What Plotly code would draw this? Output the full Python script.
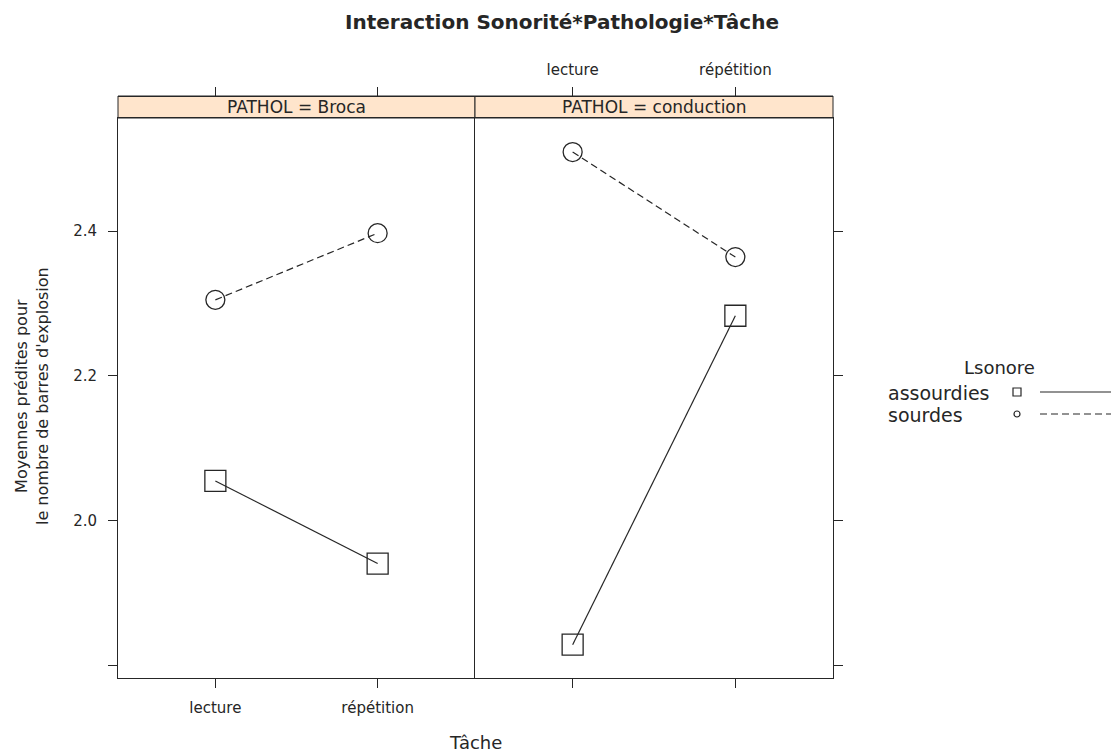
import plotly.graph_objects as go

# data
tache = ["lecture", "répétition"]
panels = ["Broca", "conduction"]
series = ["assourdies", "sourdes"]
broca_assourdies = [2.055, 1.941]
broca_sourdes = [2.305, 2.397]
conduction_assourdies = [1.829, 2.283]
conduction_sourdes = [2.509, 2.364]
y_ticks = [1.8, 2.0, 2.2, 2.4]
y_ticktext = ["", "2.0", "2.2", "2.4"]

# %%
# screen coordinates of the panel block (page body has an 8px margin)
OFF = 8
W, H = 1119 - OFF, 755 - OFF
L, T, B = 118 - OFF, 96 - OFF, 77
pw, ph = W - L, H - T - B


def px(x):
    return (x - 118) / pw


def py(y):
    return (678 - y) / ph


ink = "#262626"
font = "DejaVu Sans, sans-serif"
strip_bg = "#FFE5CC"
xr = [-0.6, 1.6]
yr = [1.783, 2.556]
ytop = py(118)

styles = {
    "assourdies": dict(symbol="square-open", size=21, dash="solid"),
    "sourdes": dict(symbol="circle-open", size=19, dash="7px,4px"),
}
data = {
    ("Broca", "assourdies"): broca_assourdies,
    ("Broca", "sourdes"): broca_sourdes,
    ("conduction", "assourdies"): conduction_assourdies,
    ("conduction", "sourdes"): conduction_sourdes,
}

fig = go.Figure()
for i, p in enumerate(panels):
    xa = "x" if i == 0 else "x2"
    ya = "y" if i == 0 else "y2"
    for s in series:
        st = styles[s]
        fig.add_trace(go.Scatter(
            x=tache, y=data[(p, s)], xaxis=xa, yaxis=ya,
            mode="lines+markers", name=s, showlegend=False,
            line=dict(color=ink, width=1.2, dash=st["dash"]),
            marker=dict(symbol=st["symbol"], size=st["size"],
                        color=ink, line=dict(color=ink, width=1.3)),
        ))

# dummy traces so the top axes are drawn
for xa, ya in [("x3", "y"), ("x4", "y2")]:
    fig.add_trace(go.Scatter(x=tache, y=[None, None], xaxis=xa, yaxis=ya,
                             mode="markers", showlegend=False, hoverinfo="skip"))

# legend key (drawn in its own hidden axes, screen pixel units)
key_y = {"assourdies": 392, "sourdes": 414}
key_size = {"assourdies": 8, "sourdes": 6}
for s in series:
    st = styles[s]
    fig.add_trace(go.Scatter(
        x=[1017], y=[key_y[s]], xaxis="x5", yaxis="y5", mode="markers",
        showlegend=False, hoverinfo="skip",
        marker=dict(symbol=st["symbol"], size=key_size[s], color=ink,
                    line=dict(color=ink, width=1.2))))
    fig.add_trace(go.Scatter(
        x=[1040, 1116], y=[key_y[s]] * 2, xaxis="x5", yaxis="y5", mode="lines",
        showlegend=False, hoverinfo="skip",
        line=dict(color=ink, width=1.2, dash=st["dash"])))

ax_common = dict(showgrid=False, zeroline=False, showline=True, linecolor=ink,
                 linewidth=1, ticks="outside", ticklen=9, tickcolor=ink,
                 tickfont=dict(family=font, size=15, color=ink))

split = px(475)
right = px(833)
fig.update_layout(
    width=W, height=H,
    margin=dict(l=L, r=0, t=T, b=B),
    paper_bgcolor="white", plot_bgcolor="white",
    font=dict(family=font, color=ink),
    xaxis=dict(domain=[0, split], anchor="y", type="category", range=xr,
               mirror=True, ticklabelstandoff=7, **ax_common),
    xaxis2=dict(domain=[split, right], anchor="y2", type="category", range=xr,
                mirror=True, showticklabels=False, **ax_common),
    xaxis3=dict(overlaying="x", anchor="free", position=1, side="top",
                type="category", range=xr, showticklabels=False, **ax_common),
    xaxis4=dict(overlaying="x2", anchor="free", position=1, side="top",
                type="category", range=xr, ticklabelstandoff=6, **ax_common),
    yaxis=dict(domain=[0, ytop], anchor="x", range=yr, tickvals=y_ticks,
               ticktext=y_ticktext, ticklabelstandoff=8, **ax_common),
    yaxis2=dict(domain=[0, ytop], anchor="x2", range=yr, side="right",
                tickvals=y_ticks, showticklabels=False, mirror=True,
                **ax_common),
    xaxis5=dict(domain=[px(880), 1], range=[880, 1119], visible=False),
    yaxis5=dict(domain=[0, 1], range=[678, 96], visible=False),
)

# strips
for i, p in enumerate(panels):
    x0, x1 = (0, split) if i == 0 else (split, right)
    fig.add_shape(type="rect", xref="paper", yref="paper", x0=x0, x1=x1,
                  y0=ytop, y1=1, fillcolor=strip_bg,
                  line=dict(color=ink, width=1), layer="below")
    fig.add_annotation(xref="paper", yref="paper", x=(x0 + x1) / 2,
                       y=(ytop + 1) / 2, text=f"PATHOL = {p}", showarrow=False,
                       xanchor="center", yanchor="middle",
                       font=dict(family=font, size=17, color=ink))

# titles
fig.add_annotation(xref="paper", yref="paper", x=px(562), y=py(22),
                   text="<b>Interaction Sonorité*Pathologie*Tâche</b>",
                   xanchor="center", yanchor="middle",
                   showarrow=False, font=dict(family=font, size=20, color=ink))
fig.add_annotation(xref="paper", yref="paper", x=px(475), y=py(742),
                   text="Tâche", showarrow=False,
                   xanchor="center", yanchor="middle",
                   font=dict(family=font, size=18, color=ink))
fig.add_annotation(xref="paper", yref="paper", x=px(32), y=py(396),
                   text="Moyennes prédites pour<br>le nombre de barres d'explosion",
                   textangle=-90, showarrow=False,
                   xanchor="center", yanchor="middle",
                   font=dict(family=font, size=16, color=ink))

# legend text
fig.add_annotation(xref="x5", yref="y5", x=999, y=367, text="Lsonore",
                   xanchor="center", yanchor="middle",
                   showarrow=False, font=dict(family=font, size=18, color=ink))
for s in series:
    fig.add_annotation(xref="x5", yref="y5", x=886, y=key_y[s] + 1, text=s,
                       xanchor="left", yanchor="middle", showarrow=False,
                       font=dict(family=font, size=19, color=ink))

fig.write_html("out.html")
